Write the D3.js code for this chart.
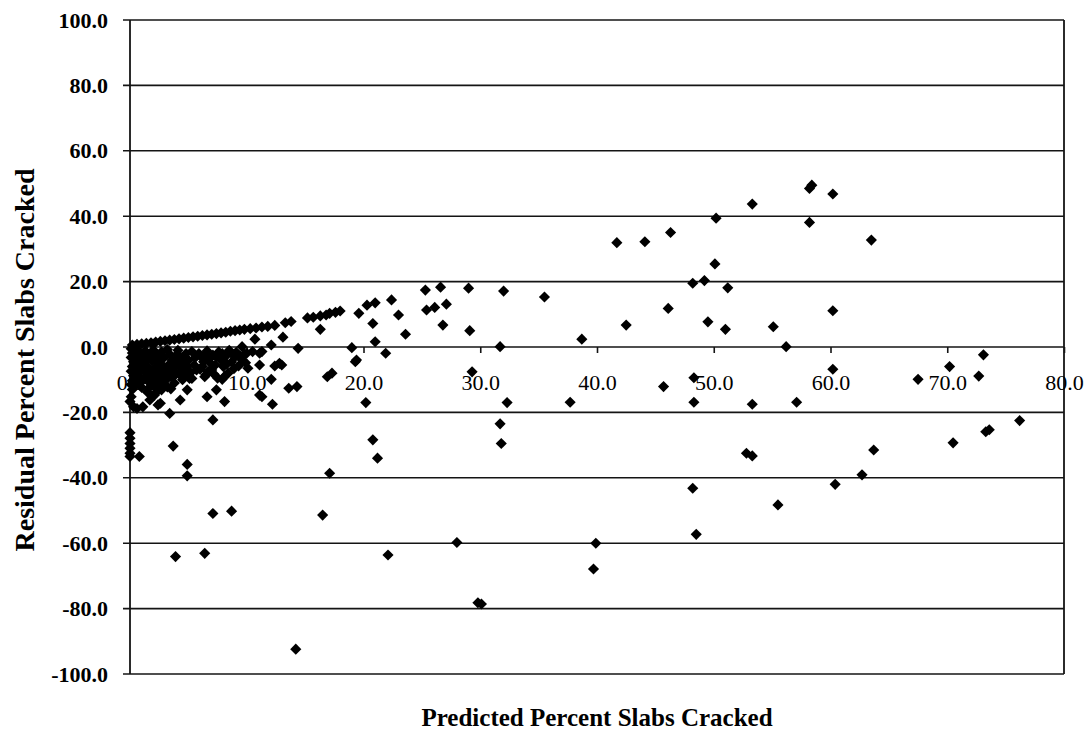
<!DOCTYPE html>
<html>
<head>
<meta charset="utf-8">
<script src="https://cdn.jsdelivr.net/npm/d3@7"></script>
<style>
  html, body { margin: 0; padding: 0; background: #fff; }
  svg { display: block; }
  text { font-family: "Liberation Serif", "Times New Roman", serif; fill: #000; }
</style>
</head>
<body>
<svg id="chart" width="1090" height="730"></svg>
<script>
// Tick values for both axes
const xTicks = [0, 10, 20, 30, 40, 50, 60, 70, 80];
const yTicks = [-100, -80, -60, -40, -20, 0, 20, 40, 60, 80, 100];

// [predicted % slabs cracked, residual % slabs cracked]
// Upper edge of the low-prediction band
const upperBand = [
  [0.2,0.6],[0.6,0.8],[1.0,1.0],[1.4,1.1],[1.8,1.3],[2.2,1.5],[2.6,1.7],[3.0,1.9],[3.4,2.1],[3.8,2.3],
  [4.2,2.5],[4.6,2.7],[5.0,2.9],[5.4,3.1],[5.8,3.3],[6.2,3.5],[6.6,3.7],[7.0,3.9],[7.4,4.1],[7.8,4.3],
  [8.2,4.5],[8.6,4.8],[9.0,5.0],[9.4,5.2],[9.8,5.4],[10.3,5.6],[10.8,5.8],[11.3,6.1],[11.8,6.3],[12.4,6.6],
  [13.3,7.4],[13.8,7.8],[15.2,8.9],[15.7,9.1],[16.3,9.5],[16.8,9.8],[17.1,10.3],[17.6,10.6],[18.0,11.0],
  [19.6,10.3],[20.3,12.8],[21.0,13.5],[22.4,14.4],[25.3,17.4],[26.6,18.3],[25.4,11.3],[26.1,12.1],[27.1,13.1],
  [23.0,9.8],[23.6,3.9],[26.8,6.7],[29.0,18.0],[29.1,5.0],[31.7,0.1],[32.0,17.1],[35.5,15.3],[38.7,2.4]
];

// Dense cluster of low predictions
const lowCluster = [
  [0.1,-0.5],[0.2,-1.8],[0.1,-3.2],[0.3,-4.5],[0.2,-6.0],[0.1,-7.4],[0.3,-8.8],[0.2,-10.3],[0.1,-11.5],[0.2,-13.0],
  [0.6,-0.8],[0.8,-2.4],[0.7,-4.0],[0.9,-5.6],[0.6,-7.2],[0.8,-9.0],[0.7,-10.8],[1.0,-12.4],
  [1.3,-1.2],[1.5,-3.0],[1.2,-4.8],[1.6,-6.3],[1.4,-8.0],[1.3,-9.6],[1.7,-11.0],
  [2.0,-0.9],[2.2,-2.6],[1.9,-4.2],[2.3,-5.8],[2.1,-7.5],[2.4,-9.2],[2.0,-10.5],
  [2.7,-1.5],[2.9,-3.3],[2.6,-5.0],[3.0,-6.6],[2.8,-8.4],[3.1,-10.0],[2.9,-11.8],
  [3.4,-2.2],[3.6,-4.0],[3.3,-5.5],[3.7,-7.2],[3.5,-9.0],[3.8,-11.0],
  [4.1,-1.0],[4.3,-3.0],[4.0,-4.8],[4.4,-6.5],[4.2,-8.2],[4.5,-10.0],
  [4.8,-2.0],[5.0,-4.0],[4.9,-6.0],[5.2,-7.8],[5.1,-9.6],[5.5,-5.5],
  [5.9,-2.0],[6.3,-4.5],[6.0,-6.8],[6.6,-1.2],[6.8,-3.5],[6.5,-8.5],[7.1,-2.5],[7.3,-5.5],[7.0,-7.0],
  [7.6,-1.5],[7.8,-4.0],[7.5,-9.5],[8.2,-2.8],[8.0,-6.0],[8.5,-1.0],[8.7,-4.6],[8.4,-8.0],[9.0,-3.0],
  [9.3,-5.8],[9.1,-1.6],[9.6,-4.0],[9.8,-2.2],[10.1,-6.5],
  [0.4,-2.6],[0.5,-5.2],[1.1,-3.6],[1.8,-2.0],[2.5,-3.9],[3.2,-0.8],[3.9,-5.9],[4.6,-4.3],[5.3,-1.4],
  [6.1,-3.0],[7.4,-3.0],[8.9,-6.6],[1.5,-13.8],[2.3,-12.6],
  [0.4,-7.9],[0.5,-9.8],[0.4,-12.0],[1.0,-6.8],[1.1,-10.2],[1.8,-8.9],[1.6,-12.6],[2.5,-6.6],[2.6,-10.8],
  [3.3,-7.8],[3.2,-12.2],[3.8,-8.8],[4.0,-2.4],[4.7,-7.3],[4.7,-8.9],[5.6,-3.2],[5.7,-7.0],[6.4,-2.4],
  [6.2,-6.0],[6.9,-5.0],[7.2,-8.3],[7.9,-2.0],[8.3,-5.2],[8.8,-2.2],[9.4,-2.8],[9.9,-4.8],[8.1,-9.0],
  [6.7,-7.5],[3.5,-12.8],[2.2,-14.0]
];

// Scattered points below the band, predictions under 40 %
const lowerScatter = [
  [16.3,5.4],[13.1,3.0],[10.7,2.4],[12.1,0.6],[14.4,-0.4],[19.0,-0.2],[20.8,7.2],[21.0,1.6],[21.9,-1.9],
  [19.4,-4.0],[19.3,-4.5],[17.3,-8.0],[16.9,-9.1],[20.2,-17.0],[12.8,-5.0],[12.4,-5.8],[11.1,-5.5],
  [12.1,-9.9],[13.6,-12.6],[14.3,-12.1],[11.3,-15.2],[12.2,-17.5],[10.0,-1.9],[9.6,0.1],[11.3,-1.4],
  [10.5,-1.4],[11.1,-1.9],[13.0,-5.5],[11.1,-14.7],[29.3,-7.6],[32.3,-17.0],[31.7,-23.5],[31.8,-29.5],
  [7.1,-22.3],[3.4,-20.3],[2.6,-17.2],[4.3,-16.2],[4.9,-13.1],[6.6,-15.2],[7.4,-13.1],[8.1,-16.7],
  [0.1,-15.2],[0.3,-18.3],[1.1,-18.3],[1.7,-16.2],[6.4,-9.1],[7.9,-9.9],[2.4,-17.7],[2.1,-14.7],
  [2.7,-13.1],[1.9,-11.6],[5.3,-9.6],[0.6,-18.8],[0.0,-16.7],
  [0.0,-26.2],[0.0,-27.9],[0.0,-29.5],[0.0,-31.0],[0.0,-32.5],[0.0,-33.5],[0.8,-33.5],
  [3.7,-30.3],[4.9,-35.9],[4.9,-39.4],[7.1,-50.9],[8.7,-50.2],[3.9,-64.1],[6.4,-63.1],
  [17.1,-38.6],[16.5,-51.4],[14.2,-92.4],[20.8,-28.4],[21.2,-34.0],[22.1,-63.6],[28.0,-59.8],
  [29.8,-78.2],[30.1,-78.6],[39.9,-60.0],[39.7,-67.9],[37.7,-16.9]
];

// Predictions of 40 % and above
const highScatter = [
  [41.7,31.9],[44.1,32.2],[46.3,35.0],[50.2,39.4],[53.3,43.7],[58.4,49.5],[58.2,48.5],[60.2,46.8],
  [58.2,38.1],[50.1,25.4],[48.2,19.5],[49.2,20.3],[51.2,18.1],[46.1,11.8],[60.2,11.1],[42.5,6.7],
  [49.5,7.7],[51.0,5.4],[55.1,6.2],[56.2,0.1],[60.2,-6.8],[45.7,-12.1],[48.3,-9.4],[48.3,-16.9],
  [53.3,-17.5],[57.1,-16.9],[63.5,32.7],[67.5,-9.9],[70.2,-6.0],[72.7,-8.9],[73.1,-2.4],[76.2,-22.5],
  [73.3,-25.9],[73.6,-25.3],[70.5,-29.3],[63.7,-31.5],[62.7,-39.1],[60.4,-42.0],[52.8,-32.5],
  [53.3,-33.3],[48.2,-43.2],[55.5,-48.3],[48.5,-57.3]
];

const points = [].concat(upperBand, lowCluster, lowerScatter, highScatter);

const svg = d3.select("#chart");
const plot = { left: 130, right: 1064, top: 20, bottom: 674 };

const x = d3.scaleLinear().domain([0, 80]).range([plot.left, plot.right]);
const y = d3.scaleLinear().domain([-100, 100]).range([plot.bottom, plot.top]);
// one decimal, plain hyphen for negatives
const fmt = d => d3.format(".1f")(d).replace("\u2212", "-");
const ink = "#141414";

// Horizontal gridlines, extended left as tick marks
svg.append("g")
  .selectAll("line")
  .data(yTicks)
  .join("line")
  .attr("x1", plot.left - 7)
  .attr("x2", plot.right)
  .attr("y1", d => y(d))
  .attr("y2", d => y(d))
  .attr("stroke", ink)
  .attr("stroke-width", 1.6);

// Y axis labels
const yAxis = d3.axisLeft(y).tickValues(yTicks).tickFormat(fmt).tickSize(0).tickPadding(22);
const gy = svg.append("g").attr("transform", `translate(${plot.left},0)`).call(yAxis);
gy.select(".domain").remove();
gy.selectAll("text")
  .attr("font-family", "Liberation Serif, Times New Roman, serif")
  .attr("font-size", 22)
  .attr("font-weight", "bold")
  .attr("fill", "#000");

// Left axis and right border
svg.append("line")
  .attr("x1", plot.left).attr("x2", plot.left)
  .attr("y1", plot.top).attr("y2", plot.bottom)
  .attr("stroke", ink).attr("stroke-width", 1.8);
svg.append("line")
  .attr("x1", plot.right).attr("x2", plot.right)
  .attr("y1", plot.top).attr("y2", plot.bottom)
  .attr("stroke", ink).attr("stroke-width", 1.8);

// X axis on the zero line
const xAxis = d3.axisBottom(x).tickValues(xTicks).tickFormat(fmt).tickSize(6).tickPadding(21);
const gx = svg.append("g").attr("transform", `translate(0,${y(0)})`).call(xAxis);
gx.select(".domain").remove();
gx.selectAll(".tick line").attr("stroke", ink).attr("stroke-width", 1.6);
gx.selectAll("text")
  .attr("font-family", "Liberation Serif, Times New Roman, serif")
  .attr("font-size", 22)
  .attr("fill", "#000");

// Data markers: filled diamonds
const diamond = d3.symbol().type(d3.symbolSquare).size(62)();
svg.append("g")
  .selectAll("path")
  .data(points)
  .join("path")
  .attr("d", diamond)
  .attr("transform", d => `translate(${x(d[0])},${y(d[1])}) rotate(45)`)
  .attr("fill", "#000");

// Axis titles
svg.append("text")
  .attr("x", 597)
  .attr("y", 726)
  .attr("text-anchor", "middle")
  .attr("font-size", 25)
  .attr("font-weight", "bold")
  .text("Predicted Percent Slabs Cracked");

svg.append("text")
  .attr("transform", "translate(34,360) rotate(-90)")
  .attr("text-anchor", "middle")
  .attr("font-size", 28)
  .attr("font-weight", "bold")
  .text("Residual Percent Slabs Cracked");
</script>
</body>
</html>
